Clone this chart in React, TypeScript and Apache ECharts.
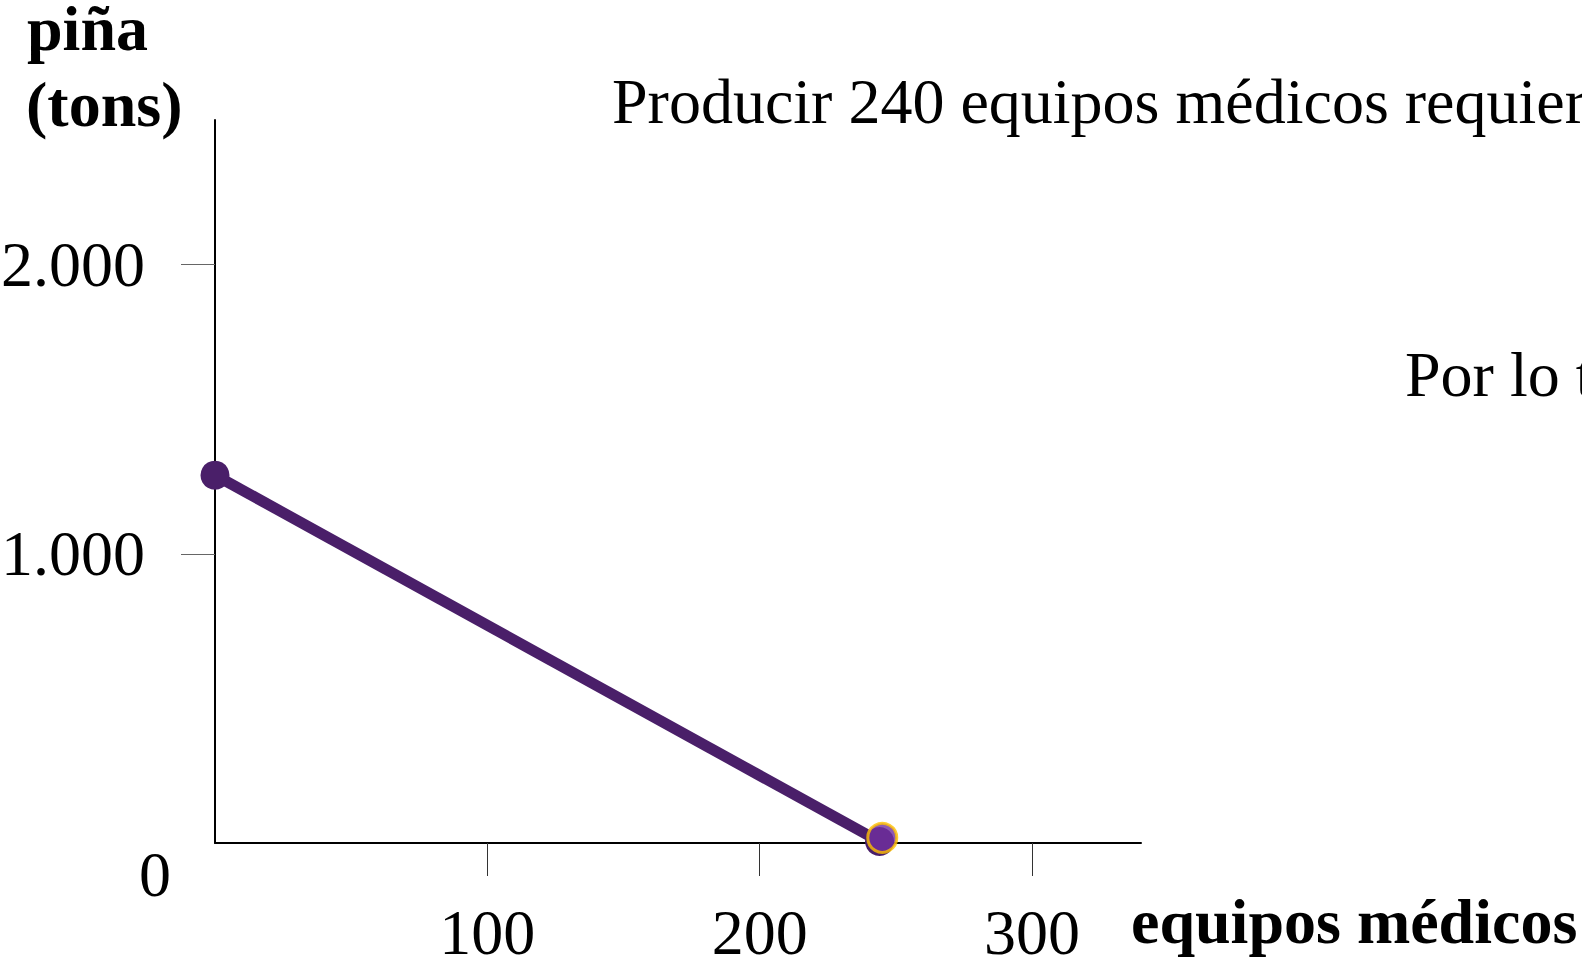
import React, { useEffect, useRef } from "react";
import * as echarts from "echarts";

const FONT = '"Liberation Serif", "Times New Roman", serif';

const xTicks = [100, 200, 300];
const yTicks = [1000, 2000];
const yTickLabels = ["1.000", "2.000"];
const frontierPoints: [number, number][] = [
  [0, 1272],
  [244, 5],
];
const highlightPoint: [number, number][] = [[245, 18]];

const yAxisTitle = ["piña", "(tons)"];
const xAxisTitle = "equipos médicos";
const noteTop = "Producir 240 equipos médicos requiere";
const noteMid = "Por lo tanto";

export default function App() {
  const ref = useRef<HTMLDivElement>(null);

  useEffect(() => {
    if (!ref.current) return;
    const chart = echarts.init(ref.current, undefined, { renderer: "svg" });
    const fs = 64;
    const mid = 21.6; // offset from middle to baseline
    const txt = (text: string, x: number, baseline: number, bold: boolean, align = "left") => ({
      type: "text",
      x,
      y: baseline - mid,
      style: {
        text,
        fontFamily: FONT,
        fontSize: fs,
        fontWeight: bold ? "bold" : "normal",
        fill: "#000",
        align,
        verticalAlign: "middle",
        lineHeight: fs,
      },
    });
    chart.setOption({
      animation: false,
      backgroundColor: "#fff",
      grid: {
        left: 215,
        right: 441,
        top: 120,
        bottom: 115,
        containLabel: false,
        outerBoundsMode: "none",
      },
      xAxis: {
        type: "value",
        min: 0,
        max: 340,
        axisLine: { show: true, lineStyle: { color: "#000", width: 2 } },
        axisTick: {
          show: true,
          length: 33,
          customValues: xTicks,
          lineStyle: { color: "#333", width: 1 },
        },
        axisLabel: {
          show: true,
          customValues: xTicks,
          margin: 57,
          fontFamily: FONT,
          fontSize: fs,
          color: "#000",
        },
        splitLine: { show: false },
      },
      yAxis: {
        type: "value",
        min: 0,
        max: 2500,
        axisLine: { show: true, lineStyle: { color: "#000", width: 2 } },
        axisTick: {
          show: true,
          length: 34,
          customValues: yTicks,
          lineStyle: { color: "#666", width: 1 },
        },
        axisLabel: {
          show: true,
          customValues: yTicks,
          margin: 70,
          fontFamily: FONT,
          fontSize: fs,
          color: "#000",
          formatter: (v: number) => {
            const i = yTicks.indexOf(v);
            return i >= 0 ? yTickLabels[i] : "";
          },
        },
        splitLine: { show: false },
      },
      series: [
        {
          type: "line",
          data: frontierPoints,
          showSymbol: true,
          symbol: "circle",
          symbolSize: 29,
          lineStyle: { color: "#4a1f69", width: 11 },
          itemStyle: { color: "#4a1f69" },
          z: 2,
        },
        {
          type: "scatter",
          data: highlightPoint,
          symbol: "circle",
          symbolSize: 29,
          itemStyle: { color: "#7030a0", borderColor: "#ffc000", borderWidth: 3 },
          z: 3,
        },
      ],
      graphic: [
        txt(yAxisTitle[0], 27, 50, true),
        txt(yAxisTitle[1], 26, 126, true),
        txt("0", 155, 896, false, "center"),
        txt(noteTop, 612, 123, false),
        txt(noteMid, 1405, 396, false),
        txt(xAxisTitle, 1131, 943, true),
      ],
    });
    return () => chart.dispose();
  }, []);

  return (
    <div
      ref={ref}
      style={{ position: "absolute", left: 0, top: 0, width: 1582, height: 958 }}
    />
  );
}
